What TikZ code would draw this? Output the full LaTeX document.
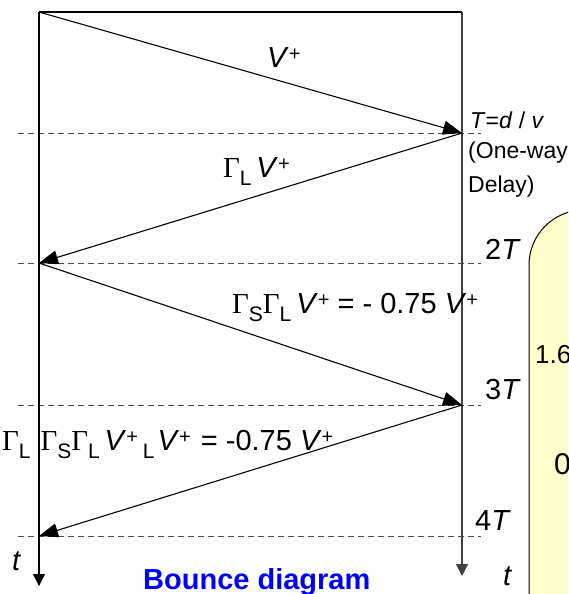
\documentclass[tikz,border=0pt]{standalone}
\usepackage{fontspec}
\setmainfont{Liberation Sans}
\newfontfamily\gfont{Liberation Serif}
\usetikzlibrary{arrows.meta}
\definecolor{boxyellow}{RGB}{255,255,204}
\definecolor{titleblue}{RGB}{0,0,255}
\newcommand\Gm[1]{{\gfont Γ}\raisebox{-8pt}{\fontsize{21}{21}\selectfont #1}}
\newcommand\Vp{\textit{V}\raisebox{7pt}{\fontsize{20}{20}\selectfont +}}
\newcommand\Sb[1]{\raisebox{-8pt}{\fontsize{21}{21}\selectfont #1}}
\begin{document}
\begin{tikzpicture}[x=1pt,y=-1pt,
  lbl/.style={anchor=base west, inner sep=0pt, font=\fontsize{29}{34}\selectfont},
  smalltxt/.style={anchor=base west, inner sep=0pt, font=\fontsize{23}{28}\selectfont},
  ray/.style={line width=1.1pt, -{Triangle[length=19pt,width=14pt]}},
  tline/.style={dash pattern=on 6pt off 4pt, gray!60!black, line width=1pt},
  axisline/.style={line width=1.1pt, -{Triangle[length=12pt,width=12pt]}}]
\useasboundingbox (0,0) rectangle (568,594);
\begin{scope}
\clip (0,0) rectangle (568,594);
% yellow box
\draw[fill=boxyellow, line width=1pt, rounded corners=55pt] (529,210) rectangle (660,660);
\node[anchor=base west, inner sep=0pt, font=\fontsize{26}{30}\selectfont] (v16) at (535,363) {1.6};
\node[anchor=base west, inner sep=0pt, font=\fontsize{30}{34}\selectfont] (v0) at (554,474) {0};
% coordinates
\coordinate (p0) at (39,12);
\coordinate (tr) at (462,12);
\coordinate (p1) at (462,133);
\coordinate (p2) at (39,263);
\coordinate (p3) at (462,405);
\coordinate (p4) at (39,536);
\coordinate (lb) at (39,586);
\coordinate (rb) at (462,576);
\foreach \y/\n in {133/a,263/b,405/c,536/d}{
  \coordinate (dl\n) at (18,\y);
  \coordinate (dr\n) at (481,\y);
}
% dashed time lines
\draw[tline] (dla) -- (dra);
\draw[tline] (dlb) -- (drb);
\draw[tline] (dlc) -- (drc);
\draw[tline] (dld) -- (drd);
% frame
\draw[line width=1.1pt] (p0) -- (tr);
\draw[axisline] (p0) -- (lb);
\draw[axisline, black!75] (tr) -- (rb);
% rays
\draw[ray] (p0) -- (p1);
\draw[ray] (p1) -- (p2);
\draw[ray] (p2) -- (p3);
\draw[ray] (p3) -- (p4);
% labels
\node[lbl] (l1) at (267,67) {\Vp};
\node[lbl] (l2) at (223,177) {\Gm{L}\,\Vp};
\node[lbl] (l3) at (232,313) {\Gm{S}\Gm{L}\,\Vp\ = - 0.75 \Vp};
\node[lbl] (l4) at (2,450) {\Gm{L}\hspace{10pt}\Gm{S}\Gm{L}\,\Vp\hspace{5pt}\Sb{L}\hspace{3pt}\Vp\hspace{10pt}= -0.75 \Vp};
\node[smalltxt] (t1) at (470,128) {\textit{T}=\textit{d} / \textit{v}};
\node[smalltxt] (t2) at (468,158) {(One-way};
\node[smalltxt] (t3) at (468,192) {Delay)};
\node[lbl] (t2T) at (485,259) {2\textit{T}};
\node[lbl] (t3T) at (485,399) {3\textit{T}};
\node[lbl] (t4T) at (475,530) {4\textit{T}};
\node[lbl] (tr1) at (503,585) {\textit{t}};
\node[lbl] (tl1) at (12,570) {\textit{t}};
\node[lbl, font=\fontsize{29}{34}\selectfont\bfseries, text=titleblue] (title) at (143,589) {Bounce diagram};
\end{scope}
\end{tikzpicture}
\end{document}
